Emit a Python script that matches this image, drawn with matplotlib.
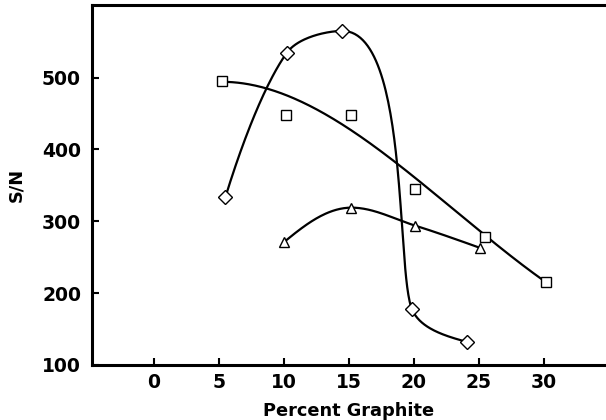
import numpy as np
import matplotlib.pyplot as plt

# percent graphite vs signal-to-noise, three series
x_diamond = [5.5, 10.2, 14.5, 19.85, 24.1]
sn_diamond = [334, 534, 565, 178, 132]

x_square = [5.2, 10.15, 15.15, 20.1, 25.5, 30.2]
sn_square = [495, 448, 448, 345, 278, 216]
w_square = [3, 1, 1.3, 1, 1, 1.5]   # weights for the smooth fit

x_triangle = [10.0, 15.2, 20.1, 25.1]
sn_triangle = [271, 319, 294, 263]

xticks = [0, 5, 10, 15, 20, 25, 30]
yticks = [100, 200, 300, 400, 500]

# rough pixel size of one data unit, so curves bend in screen space
SX, SY = 13.0, 0.718


def unit(v):
    return v/np.hypot(*v)


def hermite_curve(x, y, flat_scale=1.0, num=60):
    # Catmull-Rom style curve, flat tangent at local peaks/valleys,
    # tangents shortened next to short segments to avoid overshoot
    p = np.column_stack([np.asarray(x, float)*SX, np.asarray(y, float)*SY])
    n = len(p)
    L = np.hypot(*np.diff(p, axis=0).T)
    u = np.zeros_like(p)
    flat = np.zeros(n, bool)
    for i in range(1, n-1):
        d = p[i+1]-p[i-1]
        if (p[i, 1]-p[i-1, 1])*(p[i+1, 1]-p[i, 1]) < 0:
            d = np.array([d[0], 0.0])
            flat[i] = True
        u[i] = unit(d)
    # ends: lean away from the neighbouring tangent so the curve keeps bending
    u[0] = unit(1.5*unit(p[1]-p[0]) - 0.5*u[1])
    u[-1] = unit(1.5*unit(p[-1]-p[-2]) - 0.5*u[-2])

    def mag(i, j):
        if flat[i]:
            return flat_scale*L[j]
        if i == 0 or i == n-1:
            return L[j]
        return min(L[j], 2*min(L[i-1], L[i]))

    s = np.linspace(0, 1, num)[:, None]
    h00 = 2*s**3-3*s**2+1
    h10 = s**3-2*s**2+s
    h01 = -2*s**3+3*s**2
    h11 = s**3-s**2
    pts = []
    for j in range(n-1):
        seg = h00*p[j]+h10*u[j]*mag(j, j)+h01*p[j+1]+h11*u[j+1]*mag(j+1, j)
        pts.append(seg if j == 0 else seg[1:])
    pts = np.vstack(pts)
    return pts[:, 0]/SX, pts[:, 1]/SY


fig = plt.figure(figsize=(6.06, 4.2), dpi=100)
ax = fig.add_axes([0.152, 0.131, 0.848, 0.857])

dx, dy = hermite_curve(x_diamond, sn_diamond, flat_scale=0.7)
ax.plot(dx, dy, color='black', lw=1.6)

# squares: smooth weighted cubic fit
coef = np.polyfit(x_square, sn_square, 3, w=w_square)
xs = np.linspace(x_square[0], x_square[-1], 300)
ax.plot(xs, np.polyval(coef, xs), color='black', lw=1.6)

tx, ty = hermite_curve(x_triangle, sn_triangle)
ax.plot(tx, ty, color='black', lw=1.6)

ax.plot(x_diamond, sn_diamond, 'D', ms=7, mfc='white', mec='black', mew=1.0)
ax.plot(x_square, sn_square, 's', ms=7, mfc='white', mec='black', mew=1.0)
ax.plot(x_triangle, sn_triangle, '^', ms=6.5, mfc='white', mec='black', mew=1.0)

ax.set_xlim(-4.77, 34.8)
ax.set_ylim(100, 601)
ax.set_xticks(xticks)
ax.set_yticks(yticks)

for side in ['left', 'bottom', 'top']:
    ax.spines[side].set_linewidth(2.2)
ax.spines['right'].set_visible(False)

ax.tick_params(direction='in', length=5, width=1.5, top=False, right=False)
ax.tick_params(axis='y', pad=8)
ax.tick_params(axis='x', pad=6)
for lab in ax.get_xticklabels() + ax.get_yticklabels():
    lab.set_fontweight('bold')
    lab.set_fontsize(13.5)

ax.set_xlabel('Percent Graphite', fontsize=12.8, fontweight='bold', labelpad=7)
ax.set_ylabel('S/N', fontsize=12.8, fontweight='bold', labelpad=12)

fig.savefig('out.png', dpi=100)
